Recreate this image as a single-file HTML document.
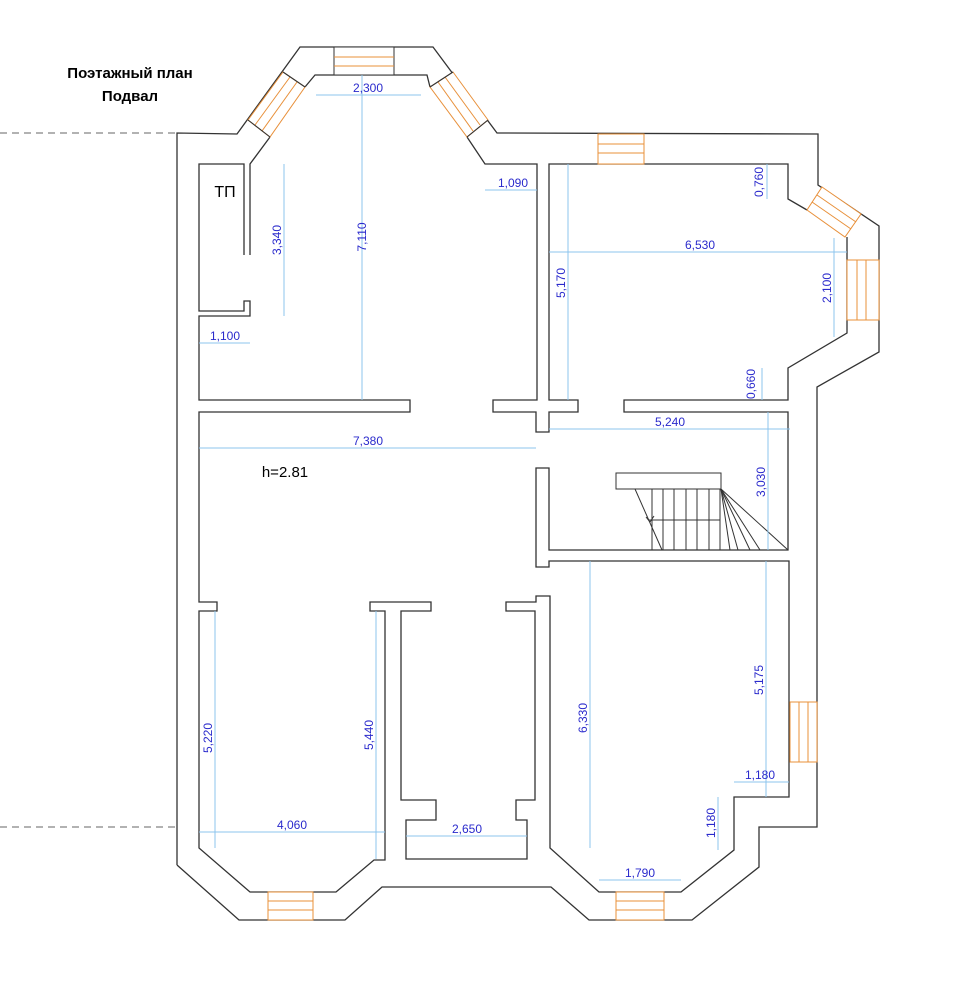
<!DOCTYPE html>
<html><head><meta charset="utf-8"><style>
body{margin:0;background:#fff;width:959px;height:1000px;overflow:hidden}
svg{display:block}
.w{fill:none;stroke:#333;stroke-width:1.3}
.d{stroke:#8cc4ee;stroke-width:1;fill:none}
.t{fill:#2a2acc;font:12px "Liberation Sans",sans-serif;text-anchor:middle}
.win{fill:#fff;stroke:#e8903a;stroke-width:1}
</style></head><body>
<svg width="959" height="1000" viewBox="0 0 959 1000">
<text x="130" y="78" style="font:bold 15px 'Liberation Sans',sans-serif" text-anchor="middle">Поэтажный план</text>
<text x="130" y="101" style="font:bold 15px 'Liberation Sans',sans-serif" text-anchor="middle">Подвал</text>
<line x1="0" y1="133" x2="177" y2="133" stroke="#666" stroke-dasharray="7,5"/>
<line x1="0" y1="827" x2="177" y2="827" stroke="#666" stroke-dasharray="7,5"/>
<polyline class="w" points="177,865 177,133 237,134 300,47 433,47 497,133 818,134 818,185 879,226 879,352 817,387 817,827 759,827 759,867 692,920 589,920 551,887 382,887 345,920 239,920 177,865"/>
<polyline class="w" points="244,255 244,164 199,164 199,311 244,311 244,301 250,301 250,316 199,316 199,400 410,400 410,412 199,412 199,602 217,602 217,611 199,611 199,848 250,892 336,892 374,860 385,860 385,611 370,611 370,602 431,602 431,611 401,611 401,800 436,800 436,820 406,820 406,859 527,859 527,820 516,820 516,800 535,800 535,611 506,611 506,602 536,602 536,596 550,596 550,848 599,892 681,892 734,850 734,797 789,797 789,561 549,561 549,567 536,567 536,468 549,468 549,550 788,550 788,412 624,412 624,400 788,400 788,368 847,333 847,260 847,237"/>
<polyline class="w" points="250,255 250,164 270,137"/>
<polyline class="w" points="305,87 315,75 427,75 430,87"/>
<polyline class="w" points="467,137 485,164 537,164 537,400 493,400 493,412 536,412 536,432 549,432 549,412 578,412 578,400 549,400 549,164 788,164 788,199 807,210"/>
<g class="win">
<rect x="334" y="47" width="60" height="28" stroke="#333"/>
<line x1="334" y1="57" x2="394" y2="57"/><line x1="334" y1="66" x2="394" y2="66"/>
<polygon points="283,72 305,87 270,137 248,120"/>
<line x1="290" y1="77" x2="255" y2="125"/><line x1="297" y1="82" x2="262" y2="131"/>
<polygon points="430,87 453,72 488,120 467,137"/>
<line x1="445" y1="77" x2="480" y2="125"/><line x1="438" y1="82" x2="473" y2="131"/>
<rect x="598" y="134" width="46" height="30"/>
<line x1="598" y1="144" x2="644" y2="144"/><line x1="598" y1="153" x2="644" y2="153"/>
<polygon points="822,187 861,214 845,237 807,210"/>
<line x1="817" y1="195" x2="856" y2="222"/><line x1="812" y1="202" x2="851" y2="229"/>
<rect x="847" y="260" width="32" height="60"/>
<line x1="857" y1="260" x2="857" y2="320"/><line x1="866" y1="260" x2="866" y2="320"/>
<rect x="790" y="702" width="27" height="60"/>
<line x1="799" y1="702" x2="799" y2="762"/><line x1="808" y1="702" x2="808" y2="762"/>
<rect x="268" y="892" width="45" height="28"/>
<line x1="268" y1="901" x2="313" y2="901"/><line x1="268" y1="910" x2="313" y2="910"/>
<rect x="616" y="892" width="48" height="28"/>
<line x1="616" y1="901" x2="664" y2="901"/><line x1="616" y1="910" x2="664" y2="910"/>
</g>
<g stroke="#333" stroke-width="1.1"><line x1="283" y1="72" x2="305" y2="87"/><line x1="248" y1="120" x2="270" y2="137"/><line x1="453" y1="72" x2="430" y2="87"/><line x1="488" y1="120" x2="467" y2="137"/></g>
<g stroke="#333" stroke-width="1" fill="none">
<rect x="616" y="473" width="105" height="16" fill="#fff"/>
<line x1="635" y1="489" x2="662" y2="550"/>
<line x1="652" y1="489" x2="652" y2="550"/><line x1="663" y1="489" x2="663" y2="550"/><line x1="674" y1="489" x2="674" y2="550"/><line x1="686" y1="489" x2="686" y2="550"/><line x1="697" y1="489" x2="697" y2="550"/><line x1="709" y1="489" x2="709" y2="550"/><line x1="720" y1="489" x2="720" y2="550"/>
<line x1="648" y1="520" x2="720" y2="520"/>
<line x1="721" y1="489" x2="788" y2="550"/><line x1="721" y1="489" x2="760" y2="550"/><line x1="721" y1="489" x2="750" y2="550"/><line x1="721" y1="489" x2="738" y2="550"/><line x1="721" y1="489" x2="730" y2="550"/>
<path d="M646,517 L650,522 L654,516"/>
</g>
<text x="225" y="197" style="font:16px 'Liberation Sans',sans-serif" text-anchor="middle">ТП</text>
<text x="285" y="477" style="font:15px 'Liberation Sans',sans-serif" text-anchor="middle">h=2.81</text>
<g class="d">
<line x1="316" y1="95" x2="421" y2="95"/><line x1="362" y1="75" x2="362" y2="400"/>
<line x1="284" y1="164" x2="284" y2="316"/><line x1="199" y1="343" x2="250" y2="343"/>
<line x1="485" y1="190" x2="537" y2="190"/><line x1="568" y1="164" x2="568" y2="400"/>
<line x1="549" y1="252" x2="847" y2="252"/><line x1="767" y1="164" x2="767" y2="199"/>
<line x1="834" y1="238" x2="834" y2="337"/><line x1="762" y1="368" x2="762" y2="400"/>
<line x1="549" y1="429" x2="790" y2="429"/><line x1="199" y1="448" x2="536" y2="448"/>
<line x1="768" y1="412" x2="768" y2="550"/><line x1="215" y1="611" x2="215" y2="848"/>
<line x1="376" y1="611" x2="376" y2="859"/><line x1="199" y1="832" x2="385" y2="832"/>
<line x1="406" y1="836" x2="527" y2="836"/><line x1="590" y1="561" x2="590" y2="848"/>
<line x1="766" y1="561" x2="766" y2="797"/><line x1="734" y1="782" x2="789" y2="782"/>
<line x1="718" y1="797" x2="718" y2="850"/><line x1="599" y1="880" x2="681" y2="880"/>
</g>
<g class="t">
<text x="368" y="92">2,300</text>
<text x="513" y="187">1,090</text>
<text x="225" y="340">1,100</text>
<text x="700" y="249">6,530</text>
<text x="670" y="426">5,240</text>
<text x="368" y="445">7,380</text>
<text x="292" y="829">4,060</text>
<text x="467" y="833">2,650</text>
<text x="760" y="779">1,180</text>
<text x="640" y="877">1,790</text>
<text transform="translate(366,237) rotate(-90)">7,110</text>
<text transform="translate(281,240) rotate(-90)">3,340</text>
<text transform="translate(565,283) rotate(-90)">5,170</text>
<text transform="translate(763,182) rotate(-90)">0,760</text>
<text transform="translate(831,288) rotate(-90)">2,100</text>
<text transform="translate(755,384) rotate(-90)">0,660</text>
<text transform="translate(765,482) rotate(-90)">3,030</text>
<text transform="translate(212,738) rotate(-90)">5,220</text>
<text transform="translate(373,735) rotate(-90)">5,440</text>
<text transform="translate(587,718) rotate(-90)">6,330</text>
<text transform="translate(763,680) rotate(-90)">5,175</text>
<text transform="translate(715,823) rotate(-90)">1,180</text>
</g>
</svg>
</body></html>
